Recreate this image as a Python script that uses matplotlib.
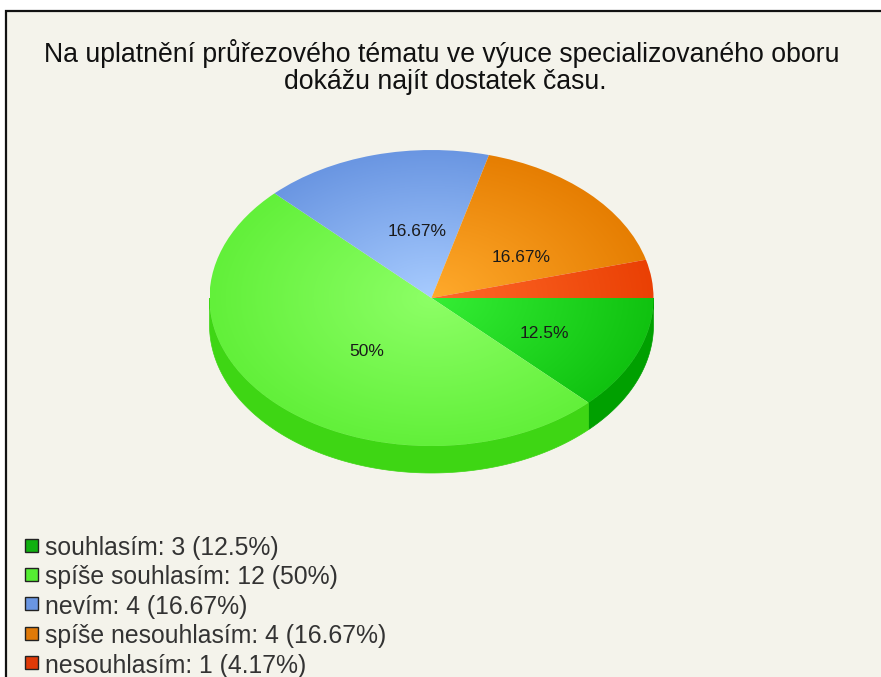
import matplotlib
matplotlib.use("Agg")
import matplotlib.pyplot as plt
import numpy as np
from matplotlib.colors import LinearSegmentedColormap
from matplotlib.patches import Rectangle

plt.rcParams["font.family"] = ["Liberation Sans", "DejaVu Sans"]

title_lines = [
    "Na uplatnění průřezového tématu ve výuce specializovaného oboru",
    "dokážu najít dostatek času.",
]
categories = ["souhlasím", "spíše souhlasím", "nevím", "spíše nesouhlasím", "nesouhlasím"]
counts = [3, 12, 4, 4, 1]
percent_text = ["12.5%", "50%", "16.67%", "16.67%", "4.17%"]

inner_colors = ["#35ee35", "#8dff66", "#a8ccff", "#ffaa2c", "#ff6a2a"]
outer_colors = ["#10c210", "#62f03a", "#6a96e2", "#e67e02", "#ea4004"]
wall_colors = ["#00a000", "#3ed614", "#5080d0", "#c06800", "#c03000"]
legend_colors = ["#10b010", "#55ee33", "#6a96e2", "#e07a08", "#e03a08"]

W, H = 881, 677
CX, CY, RX, RY, DEPTH = 431.5, 298, 222, 148, 27

fig = plt.figure(figsize=(W / 100, H / 100), dpi=100, facecolor="white")

# pie axes, unit circle squashed into an ellipse by the limits
pie_ax = fig.add_axes([0, 0, 1, 1], zorder=1)
pie_ax.patch.set_visible(False)
wedges, _ = pie_ax.pie(counts, startangle=0, counterclock=False, radius=1, center=(0, 0),
                       wedgeprops={"linewidth": 0})

# pixel axes on top for all the text
ax = fig.add_axes([0, 0, 1, 1], zorder=2)
ax.set_xlim(0, W)
ax.set_ylim(H, 0)
ax.axis("off")

# background panel goes under both axes
fig.add_artist(Rectangle((5.5, 10.5), W, H, transform=ax.transData, facecolor="#f4f3eb",
                         edgecolor="#111111", linewidth=1.6, zorder=-1))

# side wall, only the part of each slice facing front
depth = DEPTH / RY
edges = 360 - np.cumsum([0] + counts) / sum(counts) * 360
for i in range(len(counts)):
    hi, lo = edges[i], edges[i + 1]
    if hi <= 180:
        continue
    t = np.radians(np.linspace(max(lo, 180), hi, 120))
    xs = np.r_[np.cos(t), np.cos(t[::-1])]
    ys = np.r_[np.sin(t), np.sin(t[::-1]) - depth]
    pie_ax.fill(xs, ys, color=wall_colors[i], linewidth=0.5, zorder=0)

# radial gradient on the top of each slice
gx, gy = np.meshgrid(np.linspace(-1, 1, 500), np.linspace(-1, 1, 500))
dist = np.clip(np.hypot(gx, gy), 0, 1)
for i, wedge in enumerate(wedges):
    cmap = LinearSegmentedColormap.from_list(f"s{i}", [inner_colors[i], outer_colors[i]])
    im = pie_ax.imshow(dist, cmap=cmap, vmin=0, vmax=1, extent=(-1, 1, -1, 1),
                       origin="lower", aspect="auto", zorder=1)
    im.set_clip_path(wedge)
    wedge.set_visible(False)

# imshow and pie both touch the limits, so set them last
pie_ax.set_aspect("auto")
pie_ax.set_xlim(-CX / RX, (W - CX) / RX)
pie_ax.set_ylim(-(H - CY) / RY, CY / RY)
pie_ax.axis("off")

# slice labels, the smallest slice has none
label_pos = [(544, 334), (367, 351), (417, 232), (521, 258)]
for txt, (x, y) in zip(percent_text, label_pos):
    ax.text(x, y, txt, ha="center", va="center", fontsize=12.5, color="#1a1a1a")

# title
ax.text(441.5, 54, title_lines[0], ha="center", va="center", fontsize=19.2, color="#111111")
ax.text(445, 82, title_lines[1], ha="center", va="center", fontsize=19.2, color="#111111")

# legend
for i, name in enumerate(categories):
    y = 545 + i * 29.4
    ax.add_patch(Rectangle((24.5, y - 6.5), 13, 13, facecolor=legend_colors[i],
                           edgecolor="#222222", linewidth=1))
    ax.text(45, y + 3, f"{name}: {counts[i]} ({percent_text[i]})", ha="left", va="center",
            fontsize=17.8, color="#333333")

fig.savefig("out.png", dpi=100, facecolor="white")
plt.close(fig)
